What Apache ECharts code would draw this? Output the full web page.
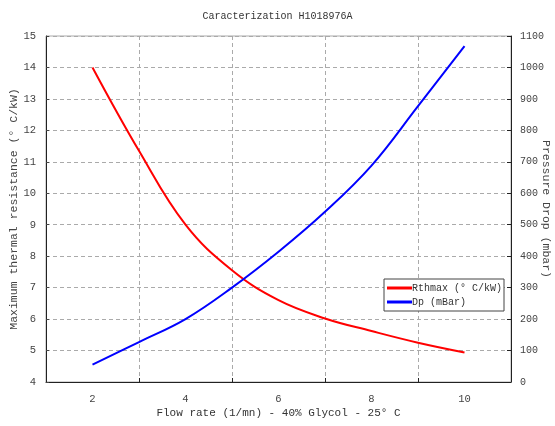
<!DOCTYPE html>
<html>
<head>
<meta charset="utf-8">
<title>Caracterization H1018976A</title>
<script src="https://cdn.jsdelivr.net/npm/echarts@6/dist/echarts.min.js"></script>
<style>
  html, body { margin: 0; padding: 0; background: #fff; }
  #main { width: 555px; height: 426px; }
</style>
</head>
<body>
<div id="main"></div>
<script>
// flow rate (l/mn)
var flowRates = [2, 3, 4, 5, 6, 7, 8, 9, 10];
// thermal resistance (°C/kW)
var rthmax = [14.0, 11.35, 9.0, 7.55, 6.6, 6.02, 5.62, 5.25, 4.94];
// pressure drop (mbar)
var dp = [55, 127, 200, 300, 414, 541, 688, 877, 1068];
// x axis labels / grid positions
var xLabelValues = [2, 4, 6, 8, 10];
var xGridValues = [3, 5, 7, 9];

var font = '"Liberation Mono", "DejaVu Sans Mono", monospace';

var chart = echarts.init(document.getElementById('main'));

function pairs(xs, ys) {
    return xs.map(function (x, i) { return [x, ys[i]]; });
}

var option = {
    animation: false,
    title: {
        text: 'Caracterization H1018976A',
        left: 'center',
        top: 6,
        textStyle: { fontFamily: font, fontSize: 10, fontWeight: 'normal', color: '#333' }
    },
    grid: {
        left: 46, right: 44, top: 36, bottom: 44,
        outerBoundsMode: 'none',
        containLabel: false,
        show: true, borderColor: '#aaa', borderWidth: 1
    },
    legend: {
        orient: 'vertical',
        left: 384, top: 279,
        icon: 'rect',
        itemWidth: 25, itemHeight: 3, itemGap: 4,
        padding: [4, 2, 4, 3],
        borderColor: '#444', borderWidth: 1, borderRadius: 0,
        backgroundColor: '#fff',
        textStyle: { fontFamily: font, fontSize: 10, color: '#333', padding: [0, 0, 0, -5] },
        data: ['Rthmax (° C/kW)', 'Dp (mBar)']
    },
    xAxis: {
        type: 'value',
        min: 1, max: 11,
        name: 'Flow rate (1/mn) - 40% Glycol - 25° C',
        nameLocation: 'middle',
        nameGap: 26,
        nameMoveOverlap: false,
        nameTextStyle: { fontFamily: font, fontSize: 11, color: '#333' },
        axisLine: { lineStyle: { color: '#222' } },
        axisTick: { inside: true, length: 4, customValues: xGridValues, lineStyle: { color: '#222' } },
        axisLabel: { customValues: xLabelValues, margin: 12, fontFamily: font, fontSize: 10.5, color: '#444' },
        splitLine: { show: true, lineStyle: { color: '#aaa', type: [4, 3] } }
    },
    yAxis: [{
        type: 'value',
        min: 4, max: 15, interval: 1,
        name: 'Maximum thermal resistance (° C/kW)',
        nameLocation: 'middle',
        nameGap: 26,
        nameMoveOverlap: false,
        nameTextStyle: { fontFamily: font, fontSize: 11.5, color: '#444' },
        axisLine: { show: true, lineStyle: { color: '#222' } },
        axisTick: { show: true, inside: true, length: 3, lineStyle: { color: '#444' } },
        axisLabel: { margin: 10, fontFamily: font, fontSize: 10.5, color: '#444' },
        splitLine: { show: true, lineStyle: { color: '#aaa', type: [4, 3] } }
    }, {
        type: 'value',
        min: 0, max: 1100, interval: 100,
        position: 'right',
        name: 'Pressure Drop (mbar)',
        nameLocation: 'middle',
        nameGap: 29,
        nameRotate: -90,
        nameMoveOverlap: false,
        nameTextStyle: { fontFamily: font, fontSize: 11.5, color: '#444' },
        axisLine: { show: true, lineStyle: { color: '#222' } },
        axisTick: { show: true, inside: true, length: 4, lineStyle: { color: '#222' } },
        axisLabel: {
            margin: 9, fontFamily: font, fontSize: 10, color: '#444',
            formatter: function (v) { return String(v); }
        },
        splitLine: { show: false }
    }],
    series: [{
        name: 'Rthmax (° C/kW)',
        type: 'line',
        yAxisIndex: 0,
        smooth: 0.4,
        showSymbol: false,
        lineStyle: { color: '#ff0000', width: 2 },
        itemStyle: { color: '#ff0000' },
        data: pairs(flowRates, rthmax)
    }, {
        name: 'Dp (mBar)',
        type: 'line',
        yAxisIndex: 1,
        smooth: 0.4,
        showSymbol: false,
        lineStyle: { color: '#0000ff', width: 2 },
        itemStyle: { color: '#0000ff' },
        data: pairs(flowRates, dp)
    }]
};

chart.setOption(option);
</script>
</body>
</html>
